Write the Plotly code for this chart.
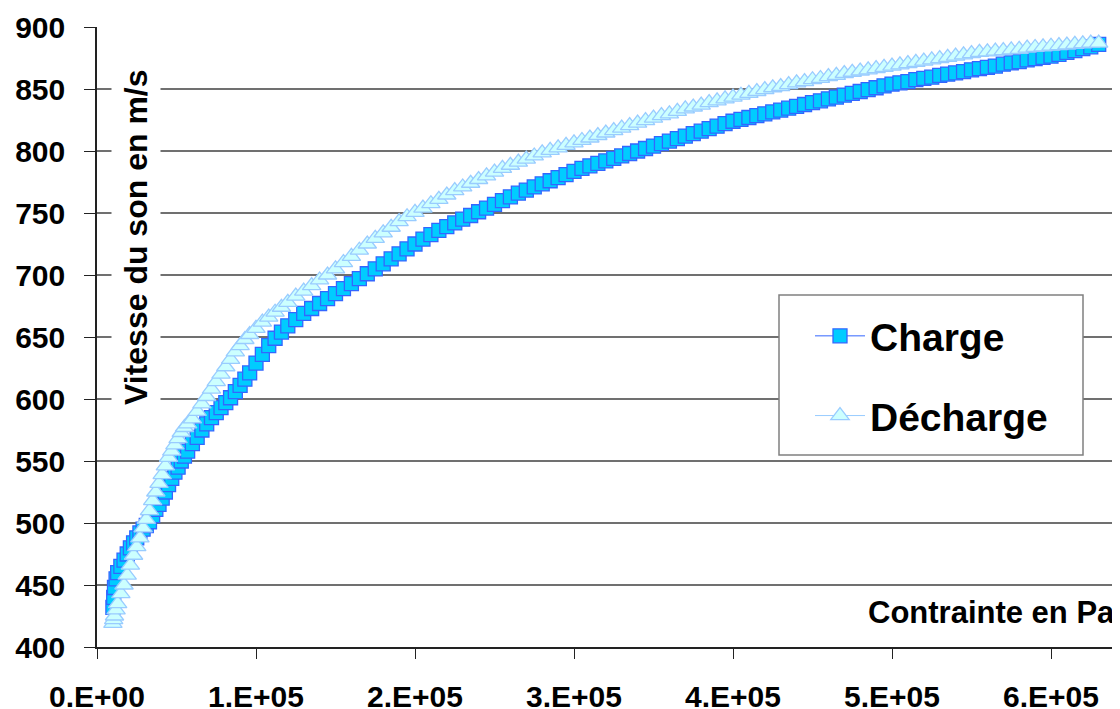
import plotly.graph_objects as go

# ---- data (stress in kPa) ----
contrainte_kpa = [
    10, 10.5, 11, 12, 13,
    15, 17, 19, 21, 23, 25, 27, 29, 31, 33, 35, 37, 39, 41, 43, 45, 47, 49, 51, 53, 55, 57,
    60, 63, 66, 69, 72, 75, 78, 81, 84, 87, 90, 93, 96,
    100, 104, 108, 112, 116, 120,
    125, 130, 135, 140, 145, 150, 155, 160, 165, 170,
    175, 180, 185, 190, 195, 200, 205, 210, 215, 220,
    225, 230, 235, 240, 245, 250, 255, 260, 265, 270,
    275, 280, 285, 290, 295, 300, 305, 310, 315, 320,
    325, 330, 335, 340, 345, 350, 355, 360, 365, 370,
    375, 380, 385, 390, 395, 400, 405, 410, 415, 420,
    425, 430, 435, 440, 445, 450, 455, 460, 465, 470,
    475, 480, 485, 490, 495, 500, 505, 510, 515, 520,
    525, 530, 535, 540, 545, 550, 555, 560, 565, 570,
    575, 580, 585, 590, 595, 600, 605, 610, 615, 620,
    625, 630,
]

vitesse_charge = [
    432, 440, 448, 455, 460,
    465, 470, 475, 480, 484, 488, 492, 495, 498, 501, 506, 511, 515, 520, 525, 531, 536, 541, 545, 550, 554, 558,
    564, 569, 575, 580, 585, 589, 593, 597, 601, 606, 611, 616, 621,
    629, 636, 643, 649, 654, 659,
    664, 669, 673, 677, 681, 685, 689, 693, 697, 701,
    705, 709, 713, 717, 721, 725, 729, 732.5, 736, 739,
    742, 745, 748, 751, 754, 757, 760, 763, 766, 768.5,
    771, 773.5, 776, 778.5, 781, 783.5, 786, 788, 790, 792,
    794, 796, 798, 800, 802, 804, 806, 808, 810, 812,
    814, 816, 818, 820, 822, 824, 825.5, 827, 828.5, 830,
    831.5, 833, 834.5, 836, 837.5, 839, 840.5, 842, 843.5, 845,
    846.5, 848, 849.5, 851, 852.5, 854, 855, 856, 857.5, 858.5,
    859.5, 861, 862, 863, 864, 865.5, 866.5, 867.5, 868.5, 870,
    871, 872, 873.5, 874.5, 875.5, 876.5, 878, 879.5, 881, 882.5,
    884, 886,
]

vitesse_decharge = [
    419, 422, 425, 430, 435,
    443, 450, 458, 466, 474, 481, 488, 496, 503, 510, 518, 525, 532, 539, 546, 553, 558, 563, 568, 573, 577, 580,
    584, 590, 596, 602, 608, 614, 620, 626, 632, 638, 643, 648, 652,
    657, 662, 666, 670, 674, 678,
    683, 687, 691.5, 696, 700, 705, 710, 715, 720, 725,
    729.5, 734, 738.5, 743, 747, 750.5, 754, 757.5, 761, 764.5,
    768, 771, 774, 777, 780, 783, 786, 788.5, 791, 793.5,
    796, 798.5, 800.5, 802.5, 804.5, 806.5, 808.5, 810.5, 812.5, 814.5,
    816.5, 818.5, 820.5, 822.5, 824.5, 826.5, 828.5, 830, 832, 834,
    835.5, 837, 839, 840.5, 842, 843.5, 845, 846.5, 848, 849.5,
    851, 852, 853.5, 855, 856, 857.5, 858.5, 860, 861, 862.5,
    863.5, 864.5, 865.5, 866.5, 867.5, 868.5, 869.5, 870.5, 871.5, 872.5,
    873.5, 874.5, 875.5, 876.5, 877.5, 878.5, 879.5, 880, 880.5, 881,
    881.5, 882, 883, 883.5, 884, 884.5, 885, 885.5, 886, 886.5,
    887, 887,
]

x_tick_vals = [0, 100000, 200000, 300000, 400000, 500000, 600000]
x_tick_text = ["0.E+00", "1.E+05", "2.E+05", "3.E+05", "4.E+05", "5.E+05", "6.E+05"]
y_tick_vals = [400, 450, 500, 550, 600, 650, 700, 750, 800, 850, 900]

series_names = ["Charge", "Décharge"]

assert len(contrainte_kpa) == len(vitesse_charge) == len(vitesse_decharge)
contrainte_pa = [v * 1000 for v in contrainte_kpa]

FONT = "Arial, 'Liberation Sans', Helvetica, sans-serif"

# The page body has an 8px margin, so the figure starts at (8, 8) on screen.
OFF = 8
FIG_W, FIG_H = 1120 - OFF, 709 - OFF
# plot area in screen pixels: left 97, top 27, width 1023, height 620
L, T, W, H = 97 - OFF, 27 - OFF, FIG_W - (97 - OFF), 620
def px_x(p):  # screen x -> paper
    return (p - OFF - L) / W
def px_y(p):  # screen y -> paper
    return (T + H - (p - OFF)) / H

x_max = 100000 * (1120 - 97) / 159.0

fig = go.Figure()
fig.add_trace(go.Scatter(
    x=contrainte_pa, y=vitesse_charge, name=series_names[0],
    mode="lines+markers", legendgroup="a",
    line=dict(color="#3366FF", width=1),
    marker=dict(symbol="square", size=14, color="#00CCFF",
                line=dict(color="#3366FF", width=1.3)),
))
fig.add_trace(go.Scatter(
    x=contrainte_pa, y=vitesse_decharge, name=series_names[1],
    mode="lines+markers", legendgroup="b",
    line=dict(color="#99CCFF", width=1),
    marker=dict(symbol="triangle-up", size=16, color="#CCFFFF",
                line=dict(color="#99CCFF", width=1.3)),
))

fig.update_layout(
    width=FIG_W, height=FIG_H,
    margin=dict(l=L, r=0, t=T, b=FIG_H - T - H, autoexpand=False),
    paper_bgcolor="white", plot_bgcolor="white",
    font=dict(family=FONT, color="black"),
    showlegend=True,
    legend=dict(
        x=px_x(810), y=px_y(304), xanchor="left", yanchor="top",
        bgcolor="rgba(0,0,0,0)", borderwidth=0,
        font=dict(family=FONT, size=39, weight="bold", color="black"),
        traceorder="grouped", tracegroupgap=26, itemwidth=50,
    ),
    xaxis=dict(
        range=[0, x_max], tickvals=x_tick_vals, ticktext=x_tick_text,
        ticks="outside", ticklen=10, tickwidth=1, tickcolor="#222",
        showline=True, linecolor="#222", linewidth=1.5,
        showgrid=False, zeroline=False, automargin=False,
        tickfont=dict(family=FONT, size=30, weight="bold"),
        ticklabelstandoff=12,
    ),
    yaxis=dict(
        range=[400, 900], tickvals=y_tick_vals,
        ticks="outside", ticklen=11, tickwidth=1, tickcolor="#222",
        showline=True, linecolor="#222", linewidth=1.5,
        showgrid=True, gridcolor="#707070", gridwidth=1.5, zeroline=False,
        automargin=False,
        tickfont=dict(family=FONT, size=30, weight="bold"),
        ticklabelstandoff=13,
    ),
    shapes=[
        dict(type="rect", xref="paper", yref="paper", layer="above",
             x0=px_x(779), x1=px_x(1083), y0=px_y(455), y1=px_y(295),
             fillcolor="white", line=dict(color="#808080", width=1.5)),
    ],
    annotations=[
        dict(text="Vitesse du son en m/s", textangle=-90,
             xref="paper", yref="paper", x=px_x(136), y=px_y(237),
             xanchor="center", yanchor="middle", showarrow=False,
             bgcolor="white", borderpad=6,
             font=dict(family=FONT, size=32, weight="bold", color="black")),
        dict(text="Contrainte en Pa",
             xref="paper", yref="paper", x=px_x(866), y=px_y(612),
             xanchor="left", yanchor="middle", showarrow=False,
             font=dict(family=FONT, size=31, weight="bold", color="black")),
    ],
)

fig.write_html("out.html")
